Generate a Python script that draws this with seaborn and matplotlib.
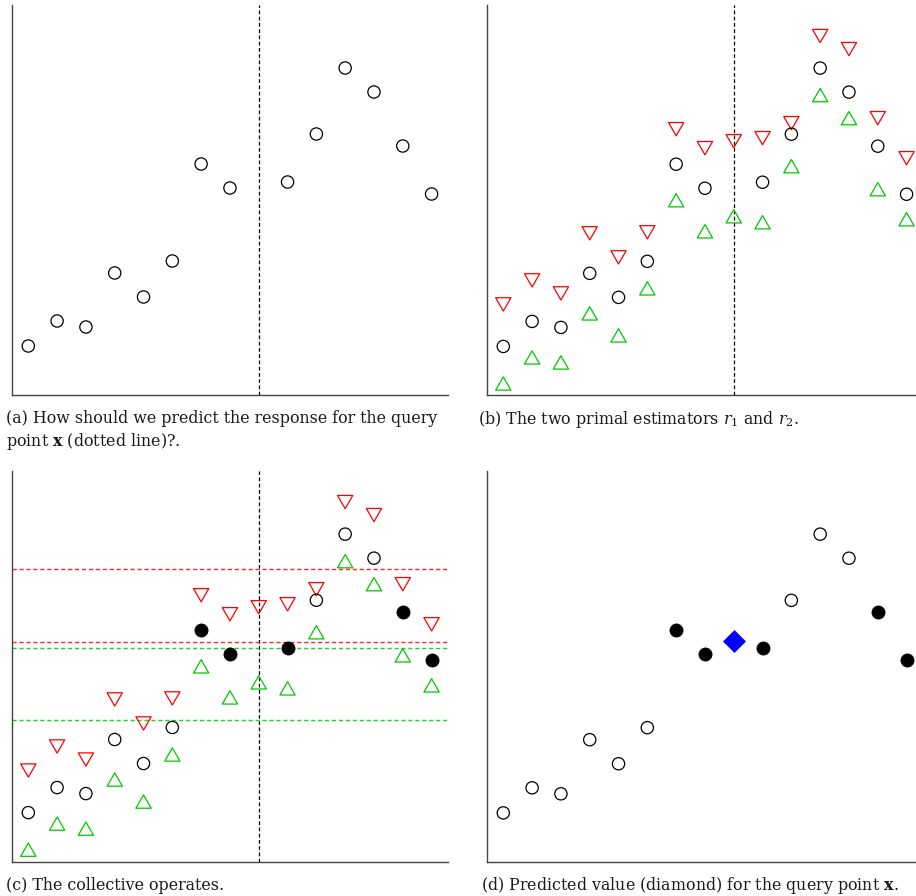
import pandas as pd
import seaborn as sns
import matplotlib.pyplot as plt
from matplotlib.path import Path

# observed responses (no observation at the query point x=9)
obs_x = [1, 2, 3, 4, 5, 6, 7, 8, 10, 11, 12, 13, 14, 15]
obs_y = [4.9, 7.4, 6.8, 12.2, 9.8, 13.4, 23.1, 20.7, 21.3, 26.1, 32.7, 30.3, 24.9, 20.1]

# the two primal estimators, evaluated on the whole grid
est_x = [1, 2, 3, 4, 5, 6, 7, 8, 9, 10, 11, 12, 13, 14, 15]
r1_y = [9.1, 11.5, 10.2, 16.2, 13.8, 16.3, 26.6, 24.7, 25.4, 25.7, 27.2, 35.9, 34.6, 27.7, 23.7]
r2_y = [1.2, 3.8, 3.3, 8.2, 6.0, 10.7, 19.5, 16.4, 17.9, 17.3, 22.9, 30.0, 27.7, 20.6, 17.6]

query_x = 9
r1_band = [21.9, 29.2]
r2_band = [14.1, 21.3]
collective_x = [7, 8, 10, 14, 15]
pred_x = [9]
pred_y = [22.05]

captions = [
    ["(a) How should we predict the response for the query",
     r"point $\mathbf{x}$ (dotted line)?."],
    [r"(b) The two primal estimators $r_1$ and $r_2$."],
    ["(c) The collective operates."],
    [r"(d) Predicted value (diamond) for the query point $\mathbf{x}$."],
]

obs = pd.DataFrame({"x": obs_x, "y": obs_y})
est = pd.DataFrame({"x": est_x, "r1": r1_y, "r2": r2_y})
coll = obs[obs["x"].isin(collective_x)]
rest = obs[~obs["x"].isin(collective_x)]
pred = pd.DataFrame({"x": pred_x, "y": pred_y})

sns.set_style("white")
plt.rcParams["font.family"] = ["DejaVu Serif"]
plt.rcParams["mathtext.fontset"] = "dejavuserif"

RED = "#ff0000"
GREEN = "#00c800"
tri_down = Path([(-1.15, 1), (1.15, 1), (0, -1), (-1.15, 1)], closed=True)
tri_up = Path([(-1.15, -1), (1.15, -1), (0, 1), (-1.15, -1)], closed=True)

W, H = 916, 896
fig = plt.figure(figsize=(W / 100, H / 100), dpi=100)


def make_ax(left, top, bottom):
    ax = fig.add_axes([left / W, 1 - bottom / H, 436 / W, (bottom - top) / H])
    return ax


def finish(ax):
    ax.set_xlim(0.434, 15.57)
    ax.set_ylim(0, 39)
    ax.set_xticks([])
    ax.set_yticks([])
    ax.set_xlabel("")
    ax.set_ylabel("")
    sns.despine(ax=ax)
    for s in ["left", "bottom"]:
        ax.spines[s].set_color("#444444")
        ax.spines[s].set_linewidth(1.0)


def open_circles(ax, data):
    sns.scatterplot(data=data, x="x", y="y", ax=ax, marker="o", s=78,
                    color="black", facecolor="none", edgecolor="black",
                    linewidth=0.9, zorder=3)


def filled_circles(ax, data):
    sns.scatterplot(data=data, x="x", y="y", ax=ax, marker="o", s=90,
                    color="black", edgecolor="black", linewidth=0.5, zorder=4)


def estimators(ax):
    sns.scatterplot(data=est, x="x", y="r1", ax=ax, marker=tri_down, s=121,
                    color=RED, facecolor="none", edgecolor=RED,
                    linewidth=0.9, zorder=3)
    sns.scatterplot(data=est, x="x", y="r2", ax=ax, marker=tri_up, s=121,
                    color=GREEN, facecolor="none", edgecolor=GREEN,
                    linewidth=0.9, zorder=3)


def query_line(ax):
    ax.axvline(query_x, color="black", lw=0.9, ls=(0, (3, 2)), zorder=1)


# (a)
ax = make_ax(12, 5, 395)
query_line(ax)
open_circles(ax, obs)
finish(ax)

# (b)
ax = make_ax(487, 5, 395.5)
query_line(ax)
estimators(ax)
open_circles(ax, obs)
finish(ax)

# (c)
ax = make_ax(12, 471, 861.7)
query_line(ax)
for v in r1_band:
    ax.axhline(v, color=RED, lw=1.0, ls=(0, (3, 2)), zorder=1, alpha=0.85)
for v in r2_band:
    ax.axhline(v, color=GREEN, lw=1.0, ls=(0, (3, 2)), zorder=1, alpha=0.85)
estimators(ax)
open_circles(ax, rest)
filled_circles(ax, coll)
finish(ax)

# (d)
ax = make_ax(487, 471, 862)
open_circles(ax, rest)
filled_circles(ax, coll)
sns.scatterplot(data=pred, x="x", y="y", ax=ax, marker="D", s=125,
                color="#0000ff", edgecolor="#0000ff", linewidth=0.5, zorder=5)
finish(ax)

# captions
cap_pos = [(6, 423), (478, 424), (6, 890), (481, 890)]
for (cx, cy), lines in zip(cap_pos, captions):
    for i, line in enumerate(lines):
        fig.text(cx / W, 1 - (cy + 23.5 * i) / H, line, fontsize=11.45,
                 color="#1a1a1a", va="baseline", ha="left")

fig.savefig("out.png", dpi=100)
